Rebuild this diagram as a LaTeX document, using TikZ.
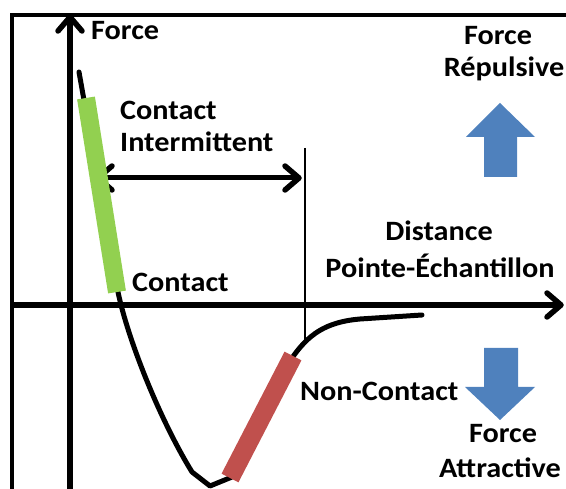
\documentclass[tikz,border=0pt]{standalone}
\usepackage{fontspec}
\setmainfont{Carlito}[FakeStretch=1.08]
\definecolor{cgreen}{HTML}{92D050}
\definecolor{cred}{HTML}{C0504D}
\definecolor{cblue}{HTML}{4F81BD}
\begin{document}
\begin{tikzpicture}[x=1pt,y=-1pt,
  lbl/.style={font=\bfseries\fontsize{28}{30}\selectfont, inner sep=0pt},
  axisline/.style={line width=5.5pt},
  chev/.style={line width=5.5pt, line join=round, line cap=round},
  curveline/.style={line width=5pt, line join=round, line cap=round},
  bluearrow/.style={fill=cblue}]
\useasboundingbox (0,0) rectangle (566,489);
% frame
\draw[line width=3.5pt] (12,489) -- (12,15) -- (566,15);
% axes
\coordinate (yb) at (70,489);
\coordinate (yt) at (70,17);
\coordinate (xl) at (12,305);
\coordinate (xr) at (561,305);
\draw[axisline] (yb) -- (yt);
\draw[chev] ([shift={(-12,14)}]yt) -- (yt) -- ([shift={(12,14)}]yt);
\draw[axisline] (xl) -- (xr);
\draw[chev] ([shift={(-14,-12)}]xr) -- (xr) -- ([shift={(-14,12)}]xr);
% thin vertical line
\coordinate (vt) at (305,148);
\coordinate (vb) at (305,343);
\draw[line width=2.5pt] (vt) -- (vb);
% intermittent double arrow
\coordinate (ia) at (98,178);
\coordinate (ib) at (299,178);
\draw[line width=5pt] (ia) -- (ib);
\draw[chev] ([shift={(14,-12)}]ia) -- (ia) -- ([shift={(14,12)}]ia);
\draw[chev] ([shift={(-14,-12)}]ib) -- (ib) -- ([shift={(-14,12)}]ib);
% curve
\draw[curveline] (79,72) -- (118,292) .. controls (128,340) and (160,420) .. (192,472) -- (210,486) -- (232,477);
\draw[curveline] (292,358) .. controls (308,335) and (325,322) .. (360,319) -- (422,315);
% bars
\draw[cgreen, line width=18pt] (86,98) -- (117,292);
\draw[cred, line width=19pt] (230,478) -- (293,356);
% blue arrows
\fill[bluearrow] (500,103) -- (535,137) -- (517,137) -- (517,177) -- (484,177) -- (484,137) -- (466,137) -- cycle;
\fill[bluearrow] (484,348) -- (518,348) -- (518,387) -- (535,387) -- (500,420) -- (465,387) -- (484,387) -- cycle;
% labels
\node[lbl, anchor=base west] (forcey) at (91,40) {Force};
\node[lbl, anchor=base west] (contact1) at (120,120) {Contact};
\node[lbl, anchor=base west] (interm) at (120,152) {Intermittent};
\node[lbl, anchor=base] (frep1) at (498,45) {Force};
\node[lbl, anchor=base] (frep2) at (504,77) {Répulsive};
\node[lbl, anchor=base] (dist) at (439,241) {Distance};
\node[lbl, anchor=base] (pe) at (440,278) {Pointe-Échantillon};
\node[lbl, anchor=base west] (contact2) at (132,292) {Contact};
\node[lbl, anchor=base west] (nonc) at (300,401) {Non-Contact};
\node[lbl, anchor=base] (fatt1) at (503,443) {Force};
\node[lbl, anchor=base] (fatt2) at (500,478) {Attractive};
\end{tikzpicture}
\end{document}
